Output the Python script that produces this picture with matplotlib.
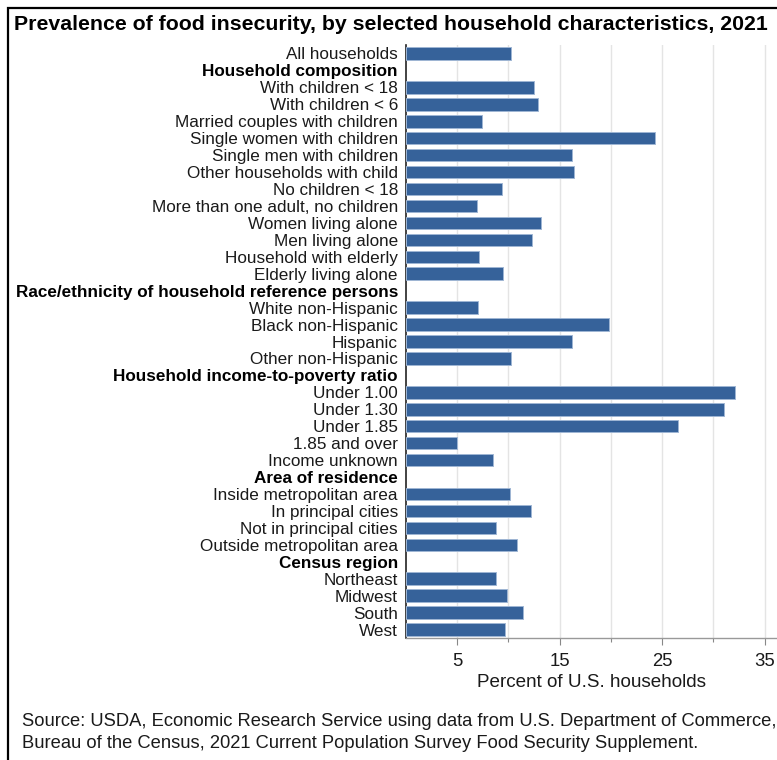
import matplotlib
matplotlib.use("Agg")
import matplotlib.pyplot as plt
from matplotlib.patches import Rectangle
import numpy as np

labels = [
    "All households",
    "Household composition",
    "With children < 18",
    "With children < 6",
    "Married couples with children",
    "Single women with children",
    "Single men with children",
    "Other households with child",
    "No children < 18",
    "More than one adult, no children",
    "Women living alone",
    "Men living alone",
    "Household with elderly",
    "Elderly living alone",
    "Race/ethnicity of household reference persons",
    "White non-Hispanic",
    "Black non-Hispanic",
    "Hispanic",
    "Other non-Hispanic",
    "Household income-to-poverty ratio",
    "Under 1.00",
    "Under 1.30",
    "Under 1.85",
    "1.85 and over",
    "Income unknown",
    "Area of residence",
    "Inside metropolitan area",
    "In principal cities",
    "Not in principal cities",
    "Outside metropolitan area",
    "Census region",
    "Northeast",
    "Midwest",
    "South",
    "West",
]
headers = [
    "Household composition",
    "Race/ethnicity of household reference persons",
    "Household income-to-poverty ratio",
    "Area of residence",
    "Census region",
]
values = [
    10.2, None, 12.5, 12.9, 7.4, 24.3, 16.2, 16.4, 9.4, 6.9, 13.2, 12.3, 7.1, 9.5,
    None, 7.0, 19.8, 16.2, 10.2,
    None, 32.1, 31.0, 26.5, 5.0, 8.5,
    None, 10.1, 12.2, 8.8, 10.8,
    None, 8.8, 9.9, 11.4, 9.7,
]
major_ticks = [5, 15, 25, 35]
minor_ticks = [10, 20, 30]

LABEL_FONT = ["Liberation Sans", "DejaVu Sans"]

W, H = 777, 760
fig = plt.figure(figsize=(W / 100, H / 100), dpi=100)
fig.patch.set_facecolor("white")

# outer frame (cut off at right/bottom as in reference)
fig.patches.append(Rectangle((8 / W, -0.05), 1.2, 1 - 8 / H + 0.05, transform=fig.transFigure,
                             fill=False, edgecolor="black", linewidth=1.6, zorder=0))

ax_left, ax_right = 406 / W, 1.0
ax_top, ax_bot = 1 - 45 / H, 1 - 638 / H
ax = fig.add_axes([ax_left, ax_bot, ax_right - ax_left, ax_top - ax_bot])

ypos = np.arange(len(labels))
bar_y = [y for y, v in zip(ypos, values) if v is not None]
bar_v = [v for v in values if v is not None]
ax.barh(bar_y, bar_v, height=0.74, color="#36629a", edgecolor="#9fb6d4", linewidth=0.7, zorder=3)

ax.set_ylim(len(labels) - 0.5, -0.5)
ax.set_xlim(0, 36.2)
ax.set_yticks(ypos)
ax.set_yticklabels(labels)
for t, lab in zip(ax.get_yticklabels(), labels):
    t.set_family(LABEL_FONT)
    t.set_fontsize(12.3)
    t.set_color("#1a1a1a")
    if lab in headers:
        t.set_fontweight("bold")
        t.set_color("black")
ax.tick_params(axis="y", length=0, pad=5.8)

ax.set_xticks(major_ticks)
ax.set_xticks(minor_ticks, minor=True)
ax.set_xticklabels([str(t) for t in major_ticks], family=LABEL_FONT, fontsize=13.3, color="#1a1a1a")
ax.tick_params(axis="x", which="major", length=5, width=0.8, color="#888888", pad=6)
ax.tick_params(axis="x", which="minor", length=3, width=0.8, color="#888888")
for x in major_ticks + minor_ticks:
    ax.axvline(x, color="#e4e4e4", linewidth=1.0, zorder=0)

ax.set_xlabel("Percent of U.S. households", family=LABEL_FONT, fontsize=13.6, color="#1a1a1a", labelpad=3)

for s in ["top", "right"]:
    ax.spines[s].set_visible(False)
ax.spines["left"].set_color("#222222")
ax.spines["left"].set_linewidth(1.2)
ax.spines["bottom"].set_color("#999999")
ax.spines["bottom"].set_linewidth(1.0)

fig.text(14 / W, 1 - 24 / H, "Prevalence of food insecurity, by selected household characteristics, 2021",
         family=LABEL_FONT, fontweight="bold", fontsize=15.3, va="center", ha="left", color="black")

fig.text(22 / W, 1 - 722 / H, "Source: USDA, Economic Research Service using data from U.S. Department of Commerce,",
         family=LABEL_FONT, fontsize=13.2, va="center", ha="left", color="#1a1a1a")
fig.text(22 / W, 1 - 743 / H, "Bureau of the Census, 2021 Current Population Survey Food Security Supplement.",
         family=LABEL_FONT, fontsize=13.2, va="center", ha="left", color="#1a1a1a")

fig.savefig("out.png", dpi=100, facecolor="white")
